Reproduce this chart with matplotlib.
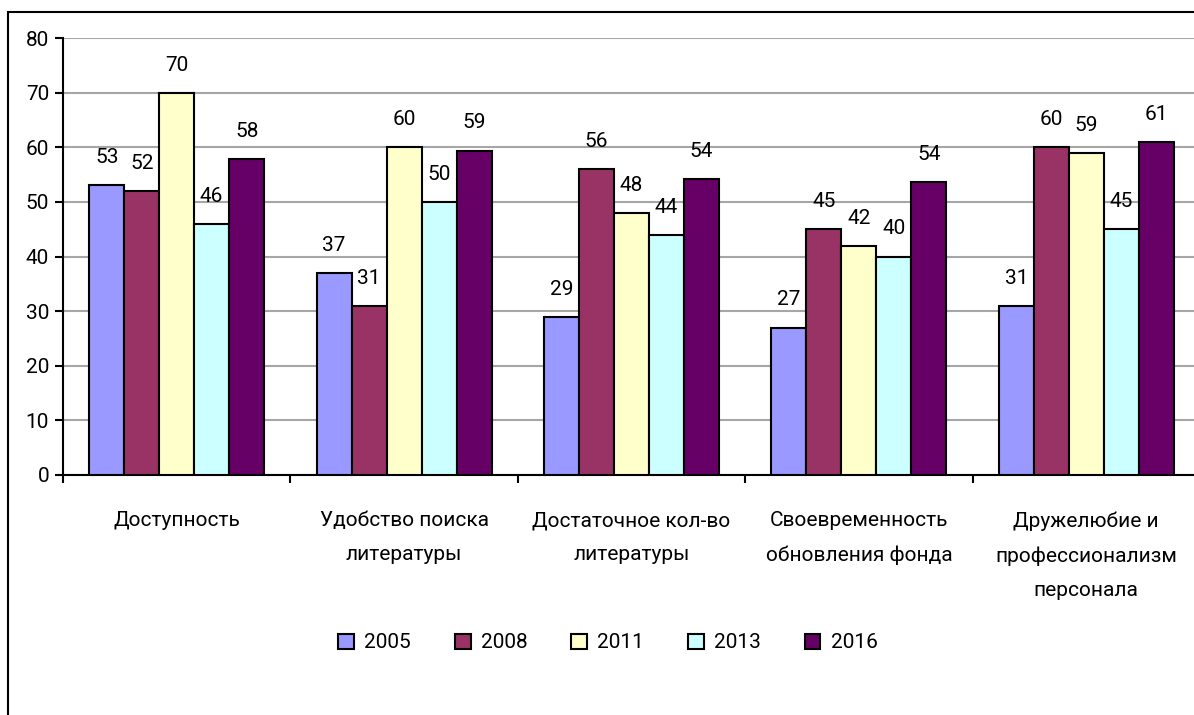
import numpy as np
import matplotlib.pyplot as plt
from matplotlib.patches import Patch, Rectangle

plt.rcParams['font.family'] = ['Roboto', 'DejaVu Sans']

categories = ['Доступность', 'Удобство поиска\nлитературы', 'Достаточное кол-во\nлитературы',
              'Своевременность\nобновления фонда', 'Дружелюбие и\nпрофессионализм\nперсонала']
years = ['2005', '2008', '2011', '2013', '2016']
v2005 = [53, 37, 29, 27, 31]
v2008 = [52, 31, 56, 45, 60]
v2011 = [70, 60, 48, 42, 59]
v2013 = [46, 50, 44, 40, 45]
v2016 = [57.8, 59.4, 54.2, 53.6, 60.9]
series = [v2005, v2008, v2011, v2013, v2016]
colors = ['#9999FF', '#993366', '#FFFFCC', '#CCFFFF', '#660066']
fs = 15

fig = plt.figure(figsize=(11.94, 7.15), dpi=100)
ax = fig.add_axes([63/1194, 1-475/715, (1200-63)/1194, (475-38)/715])

# outer chart border (cropped on right and bottom)
fig.patches.append(Rectangle((8/1194, -0.1), 1.2, 1-12/715+0.1, transform=fig.transFigure,
                             fill=False, edgecolor='black', linewidth=1.5))

x = np.arange(len(categories))
w = 1/6.5
for i, (vals, c) in enumerate(zip(series, colors)):
    pos = x + (i - 2) * w
    bars = ax.bar(pos, vals, w, color=c, edgecolor='black', linewidth=1.5, zorder=3)
    for b, v in zip(bars, vals):
        ax.annotate('%.0f' % v, (b.get_x() + b.get_width()/2, v), xytext=(0, 13),
                    textcoords='offset points', ha='center', va='bottom', fontsize=fs)

ax.set_xlim(-0.5, 4.5)
ax.set_ylim(0, 80)
ax.set_yticks(range(0, 81, 10))
ax.yaxis.grid(True, color='#A6A6A6', linewidth=1.5, zorder=0)
ax.set_axisbelow(True)
ax.set_xticks(x)
ax.set_xticklabels(categories, fontsize=fs, linespacing=2.0, va='top')
ax.set_xticks(np.arange(-0.5, 5, 1), minor=True)
ax.tick_params(axis='x', which='major', length=0, pad=26)
ax.tick_params(axis='x', which='minor', length=6, width=1.5, direction='out')
ax.tick_params(axis='y', length=6, width=1.5, labelsize=fs, pad=4)
for s in ['top', 'right']:
    ax.spines[s].set_visible(False)
ax.spines['left'].set_linewidth(1.5)
ax.spines['bottom'].set_linewidth(1.5)

handles = [Patch(facecolor=c, edgecolor='black', linewidth=1.5, label=y) for c, y in zip(colors, years)]
fig.legend(handles=handles, loc='center', bbox_to_anchor=(608/1194, 1-643/715), ncol=5,
           frameon=False, fontsize=fs, handlelength=0.75, handleheight=0.75,
           handletextpad=0.5, columnspacing=2.1)

fig.savefig('out.png', dpi=100)
